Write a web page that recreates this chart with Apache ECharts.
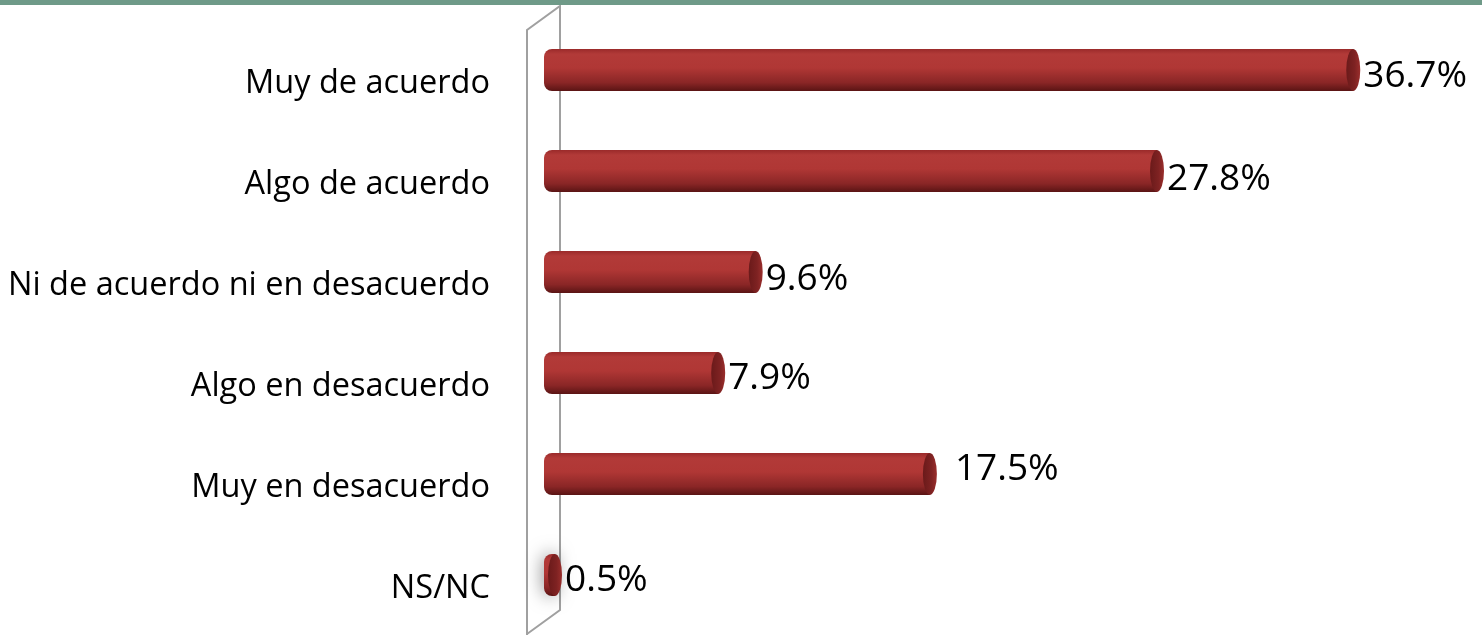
<!DOCTYPE html>
<html>
<head>
<meta charset="utf-8">
<script src="https://cdn.jsdelivr.net/npm/echarts@6/dist/echarts.min.js"></script>
<style>
  html, body { margin: 0; padding: 0; background: #fff; }
  #chart { width: 1482px; height: 635px; }
</style>
</head>
<body>
<div id="chart"></div>
<script>
const categories = ['Muy de acuerdo', 'Algo de acuerdo', 'Ni de acuerdo ni en desacuerdo', 'Algo en desacuerdo', 'Muy en desacuerdo', 'NS/NC'];
const values = [36.7, 27.8, 9.6, 7.9, 17.5, 0.5];
// label nudges as placed in the original
const labelOffsets = [[0, 6], [0, 8], [0, 7], [0, 5], [15, -5], [0, 5]];

const chart = echarts.init(document.getElementById('chart'));

const cylinder = {
  type: 'linear', x: 0, y: 0, x2: 0, y2: 1,
  colorStops: [
    { offset: 0, color: '#9a2a2a' },
    { offset: 0.12, color: '#b23a38' },
    { offset: 0.45, color: '#b03735' },
    { offset: 0.8, color: '#8a2626' },
    { offset: 1, color: '#5a1414' }
  ]
};

const option = {
  animation: false,
  grid: { left: 544, right: 56, top: 19.5, bottom: 9.5 },
  xAxis: {
    type: 'value', min: 0, max: 40,
    show: false
  },
  yAxis: {
    type: 'category',
    data: categories,
    inverse: true,
    axisLine: { show: false },
    axisTick: { show: false },
    axisLabel: {
      margin: 54,
      fontSize: 32.5,
      color: '#000',
      fontFamily: 'Open Sans',
      verticalAlign: 'top',
      lineHeight: 28
    }
  },
  series: [
    {
      type: 'bar',
      data: values.map((v, i) => ({
        value: v,
        itemStyle: i === 5 ? { shadowColor: 'rgba(0,0,0,0.55)', shadowBlur: 18 } : {}
      })),
      barWidth: 42,
      itemStyle: {
        color: cylinder,
        borderRadius: [8, 0, 0, 8]
      },
      label: { show: false }
    },
    {
      type: 'pictorialBar',
      data: values.map((v, i) => ({
        value: v,
        label: { offset: labelOffsets[i] }
      })),
      symbol: 'circle',
      symbolSize: [14, 42],
      symbolPosition: 'end',
      symbolOffset: ['50%', 0],
      z: 3,
      itemStyle: {
        color: {
          type: 'linear', x: 0, y: 0, x2: 1, y2: 0,
          colorStops: [
            { offset: 0, color: '#6a1a1a' },
            { offset: 0.6, color: '#7e2222' },
            { offset: 1, color: '#9a2e2c' }
          ]
        }
      },
      label: {
        show: true,
        position: 'right',
        distance: 3,
        formatter: p => p.value.toFixed(1) + '%',
        fontSize: 37,
        color: '#000',
        fontFamily: 'Open Sans'
      }
    }
  ],
  graphic: [
    {
      type: 'rect',
      shape: { x: 0, y: 0, width: 1482, height: 5 },
      style: { fill: '#6f9a88' }
    },
    {
      type: 'polyline',
      z: -1,
      shape: { points: [[527, 636], [527, 30], [560, 6], [560, 610], [527, 634]] },
      style: { stroke: '#a0a0a0', lineWidth: 2, fill: 'none' }
    }
  ]
};

chart.setOption(option);
</script>
</body>
</html>
